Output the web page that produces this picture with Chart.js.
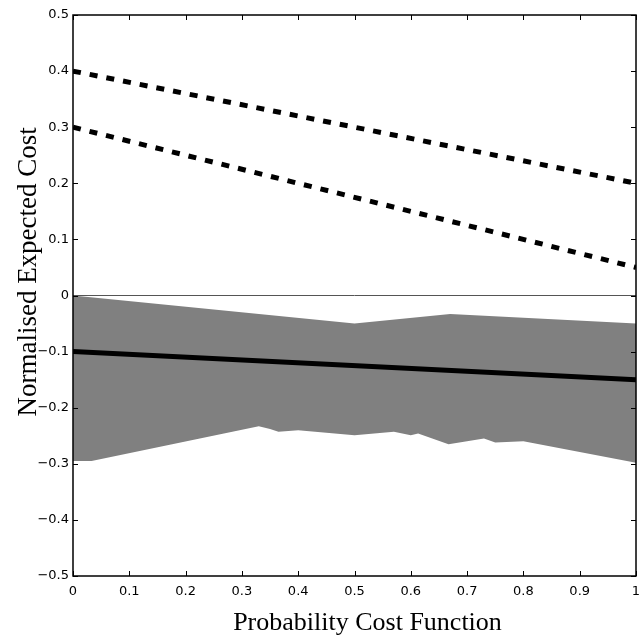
<!DOCTYPE html>
<html>
<head>
<meta charset="utf-8">
<script src="https://cdn.jsdelivr.net/npm/chart.js@4/dist/chart.umd.min.js"></script>
<style>
  html, body { margin: 0; padding: 0; background: #fff; }
  #wrap { width: 639px; height: 635px; }
</style>
</head>
<body>
<div id="wrap"><canvas id="chart"></canvas></div>
<script>
// cost lines (x = probability cost, y = normalised expected cost)
const dashX = [0, 1];
const dashHigh = [0.4, 0.2];
const dashLow = [0.3, 0.05];
const solidX = [0, 1];
const solidY = [-0.1, -0.15];

// grey band, upper and lower edges
const bandTopX = [0, 0.5, 0.67, 1];
const bandTopY = [0, -0.05, -0.033, -0.05];
const bandBotX = [0, 0.033, 0.33, 0.35, 0.365, 0.40, 0.50, 0.57, 0.60, 0.613, 0.667, 0.73, 0.75, 0.80, 1];
const bandBotY = [-0.295, -0.295, -0.233, -0.238, -0.243, -0.24, -0.249, -0.243, -0.249, -0.246, -0.265, -0.255, -0.262, -0.26, -0.298];

const xTicks = [0, 0.1, 0.2, 0.3, 0.4, 0.5, 0.6, 0.7, 0.8, 0.9, 1];
const yTicks = [-0.5, -0.4, -0.3, -0.2, -0.1, 0, 0.1, 0.2, 0.3, 0.4, 0.5];

const pts = (xs, ys) => xs.map((x, i) => ({ x: x, y: ys[i] }));

function tickLabel(v) {
  if (Math.abs(v) < 1e-9) return '0';
  const s = String(Math.round(v * 10) / 10);
  return s.replace('-', '\u2212');
}

// matlab style box with inward ticks
const boxTicks = {
  id: 'boxTicks',
  afterDatasetsDraw(chart) {
    const { ctx, chartArea: a, scales } = chart;
    ctx.save();
    ctx.strokeStyle = '#000';
    ctx.lineWidth = 1;
    ctx.beginPath();
    xTicks.forEach(v => {
      const px = Math.round(scales.x.getPixelForValue(v)) + 0.5;
      ctx.moveTo(px, a.bottom); ctx.lineTo(px, a.bottom - 5);
      ctx.moveTo(px, a.top); ctx.lineTo(px, a.top + 5);
    });
    yTicks.forEach(v => {
      const py = Math.round(scales.y.getPixelForValue(v)) + 0.5;
      ctx.moveTo(a.left, py); ctx.lineTo(a.left + 5, py);
      ctx.moveTo(a.right, py); ctx.lineTo(a.right - 5, py);
    });
    ctx.stroke();
    ctx.lineWidth = 1.5;
    ctx.strokeRect(a.left, a.top, a.right - a.left, a.bottom - a.top);
    ctx.restore();
  }
};

new Chart(document.getElementById('chart'), {
  type: 'line',
  data: {
    datasets: [
      {
        data: pts(bandTopX, bandTopY),
        borderWidth: 0,
        borderColor: 'rgba(0,0,0,0)',
        pointRadius: 0,
        fill: false,
        order: 5
      },
      {
        data: pts(bandBotX, bandBotY),
        borderWidth: 0,
        borderColor: 'rgba(0,0,0,0)',
        backgroundColor: '#808080',
        pointRadius: 0,
        fill: 0,
        order: 4
      },
      {
        data: pts([0, 1], [0, 0]),
        borderColor: '#555',
        borderWidth: 1,
        pointRadius: 0,
        order: 3
      },
      {
        data: pts(solidX, solidY),
        borderColor: '#000',
        borderWidth: 5,
        pointRadius: 0,
        order: 2
      },
      {
        data: pts(dashX, dashHigh),
        borderColor: '#000',
        borderWidth: 5,
        borderDash: [8, 9],
        pointRadius: 0,
        order: 1
      },
      {
        data: pts(dashX, dashLow),
        borderColor: '#000',
        borderWidth: 5,
        borderDash: [8, 9],
        pointRadius: 0,
        order: 1
      }
    ]
  },
  options: {
    responsive: true,
    maintainAspectRatio: false,
    animation: false,
    layout: { padding: { left: 0, right: 3, top: 15, bottom: 0 } },
    plugins: {
      legend: { display: false },
      tooltip: { enabled: false }
    },
    scales: {
      x: {
        type: 'linear',
        min: 0,
        max: 1,
        afterBuildTicks: s => { s.ticks = xTicks.map(v => ({ value: v })); },
        afterFit: s => { s.height = 59; s.paddingLeft = 0; s.paddingRight = 0; },
        grid: { display: false, drawTicks: false },
        border: { display: false },
        ticks: {
          color: '#000',
          padding: 8,
          maxRotation: 0,
          font: { family: 'DejaVu Sans', size: 13 },
          callback: v => tickLabel(v)
        },
        title: {
          display: true,
          // leading spaces nudge the label right like the original
          text: '    Probability Cost Function',
          color: '#000',
          font: { family: 'Liberation Serif', size: 26 },
          padding: { top: 0, bottom: -4 }
        }
      },
      y: {
        type: 'linear',
        min: -0.5,
        max: 0.5,
        afterBuildTicks: s => { s.ticks = yTicks.map(v => ({ value: v })); },
        afterFit: s => { s.width = 73; s.paddingTop = 0; s.paddingBottom = 0; },
        grid: { display: false, drawTicks: false },
        border: { display: false },
        ticks: {
          color: '#000',
          padding: 4,
          font: { family: 'DejaVu Sans', size: 13 },
          callback: v => tickLabel(v)
        },
        title: {
          display: true,
          // leading spaces nudge the rotated label upward like the original
          text: '       Normalised Expected Cost',
          color: '#000',
          font: { family: 'Liberation Serif', size: 27 },
          padding: { top: 13, bottom: 0 }
        }
      }
    }
  },
  plugins: [boxTicks]
});
</script>
</body>
</html>
